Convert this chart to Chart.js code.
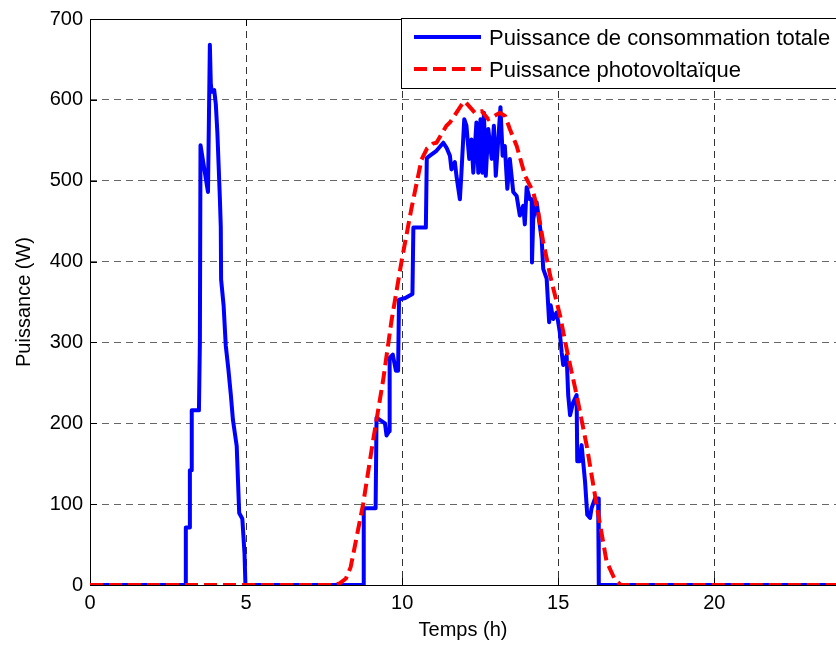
<!DOCTYPE html>
<html>
<head>
<meta charset="utf-8">
<script src="https://cdn.jsdelivr.net/npm/chart.js@4/dist/chart.umd.min.js"></script>
<style>
  html, body { margin: 0; padding: 0; background: #fff; }
  #boite { width: 836px; height: 648px; }
</style>
</head>
<body>
<div id="boite"><canvas id="puissance"></canvas></div>
<script>
// Puissance de consommation totale vs puissance photovoltaique, sur 24 h

// courbe bleue : consommation totale (W)
var heuresConso = [0, 3.07, 3.07, 3.18, 3.2, 3.24, 3.26, 3.49, 3.52, 3.54, 3.66, 3.78, 3.84, 3.87, 3.9, 3.98,
  4.03, 4.08, 4.12, 4.16, 4.19, 4.2, 4.28, 4.35, 4.43, 4.51, 4.58, 4.7, 4.78, 4.88, 4.95, 4.98,
  8.75, 8.77, 9.15, 9.18, 9.45, 9.5, 9.58, 9.6, 9.7, 9.8, 9.87, 9.9, 10.1, 10.33, 10.36, 10.76, 10.79,
  10.89, 11.1, 11.32, 11.42, 11.53, 11.58, 11.69, 11.74, 11.85, 11.9, 11.99, 12.06, 12.15, 12.22,
  12.28, 12.38, 12.44, 12.51, 12.57, 12.62, 12.68, 12.76, 12.87, 12.94, 13.0, 13.08, 13.15, 13.22,
  13.29, 13.37, 13.45, 13.56, 13.67, 13.77, 13.88, 13.93, 13.99, 14.09, 14.15, 14.16, 14.2, 14.31,
  14.47, 14.52, 14.63, 14.71, 14.76, 14.84, 14.95, 15.05, 15.11, 15.16, 15.27, 15.32, 15.38, 15.48,
  15.59, 15.61, 15.69, 15.75, 15.86, 15.93, 16.02, 16.07, 16.18, 16.28, 16.3, 24];
var wattsConso = [0, 0, 71, 71, 142, 142, 216, 216, 300, 544, 515, 486, 668, 620, 610, 612,
  595, 560, 520, 479, 443, 378, 346, 296, 268, 236, 204, 172, 89, 82, 39, 0,
  0, 95, 95, 207, 200, 185, 190, 281, 285, 265, 265, 353, 355, 360, 442, 442, 528,
  531, 537, 547, 541, 531, 514, 523, 506, 477, 510, 576, 568, 527, 551,
  510, 572, 510, 576, 510, 584, 506, 564, 527, 568, 506, 551, 591, 531,
  543, 490, 527, 486, 481, 457, 469, 446, 492, 477, 477, 399, 453, 473,
  428, 391, 379, 325, 346, 329, 337, 313, 288, 272, 284, 235, 210, 226,
  235, 153, 153, 173, 128, 87, 83, 95, 107, 107, 0, 0];

// courbe rouge : production photovoltaique (W)
var heuresPV = [0, 7.8, 8.0, 8.2, 8.35, 8.48, 8.75, 9.07, 9.39, 9.66, 9.98, 10.3, 10.62, 10.8, 10.99,
  11.1, 11.42, 11.53, 11.96, 12.01, 12.33, 12.55, 12.76, 13.13, 13.3, 13.45, 13.67, 13.94, 14.2,
  14.36, 14.52, 14.68, 14.74, 15.06, 15.27, 15.59, 15.91, 16.23, 16.55, 16.8, 17.0, 24];
var wattsPV = [0, 0, 2, 8, 22, 47, 100, 179, 253, 327, 400, 466, 526, 540, 546,
  547, 568, 572, 597, 598, 584, 586, 576, 584, 580, 564, 543, 506, 486,
  461, 424, 395, 383, 333, 292, 235, 173, 99, 29, 8, 0, 0];

var ticksTemps = [0, 5, 10, 15, 20];
var nomsSeries = ['Puissance de consommation totale', 'Puissance photovoltaïque'];

function enPoints(xs, ys) {
  return xs.map(function (x, i) { return { x: x, y: ys[i] }; });
}

var police = '"Liberation Sans", Arial, Helvetica, sans-serif';

// cadre + petites graduations interieures, sous les courbes
var cadre = {
  id: 'cadre',
  beforeDatasetsDraw: function (chart) {
    var ctx = chart.ctx, a = chart.chartArea;
    var sx = chart.scales.x, sy = chart.scales.y;
    ctx.save();
    ctx.strokeStyle = '#000';
    ctx.lineWidth = 1;
    ctx.strokeRect(a.left + 0.5, a.top + 0.5, a.right - a.left + 10, a.bottom - a.top);
    ctx.beginPath();
    sx.ticks.forEach(function (t) {
      var px = Math.round(sx.getPixelForValue(t.value)) + 0.5;
      ctx.moveTo(px, a.bottom); ctx.lineTo(px, a.bottom - 7);
      ctx.moveTo(px, a.top); ctx.lineTo(px, a.top + 7);
    });
    sy.ticks.forEach(function (t) {
      var py = Math.round(sy.getPixelForValue(t.value)) + 0.5;
      ctx.moveTo(a.left, py); ctx.lineTo(a.left + 7, py);
    });
    ctx.stroke();
    ctx.restore();
  }
};

// legende encadree dans le coin haut droit
var legende = {
  id: 'legende',
  afterDatasetsDraw: function (chart) {
    var ctx = chart.ctx, a = chart.chartArea;
    var x0 = 401, y0 = a.top - 1, h = 70;
    ctx.save();
    ctx.fillStyle = '#fff';
    ctx.fillRect(x0, y0, chart.width - x0 + 5, h);
    ctx.strokeStyle = '#000';
    ctx.lineWidth = 1;
    ctx.strokeRect(x0 + 0.5, y0 + 0.5, chart.width - x0 + 5, h);
    chart.data.datasets.forEach(function (ds, i) {
      var ly = y0 + 19 + i * 32;
      ctx.beginPath();
      ctx.strokeStyle = ds.borderColor;
      ctx.lineWidth = ds.borderWidth;
      ctx.setLineDash(ds.borderDash || []);
      ctx.moveTo(414, ly); ctx.lineTo(481, ly);
      ctx.stroke();
      ctx.setLineDash([]);
      ctx.fillStyle = '#000';
      ctx.font = '22px ' + police;
      ctx.textBaseline = 'alphabetic';
      ctx.fillText(ds.label, 489, ly + 8);
    });
    ctx.restore();
  }
};

var graphe = new Chart(document.getElementById('puissance'), {
  type: 'line',
  data: {
    datasets: [{
      label: nomsSeries[0],
      data: enPoints(heuresConso, wattsConso),
      borderColor: '#0000ff',
      borderWidth: 4,
      borderJoinStyle: 'round',
      pointRadius: 0,
      tension: 0,
      order: 1
    }, {
      label: nomsSeries[1],
      data: enPoints(heuresPV, wattsPV),
      borderColor: '#ff0000',
      borderWidth: 4,
      borderDash: [13, 6],
      pointRadius: 0,
      tension: 0,
      order: 0
    }]
  },
  options: {
    responsive: true,
    maintainAspectRatio: false,
    animation: false,
    layout: { padding: { top: 16, left: 0, right: 0, bottom: 0 } },
    plugins: {
      legend: { display: false },
      tooltip: { enabled: false }
    },
    scales: {
      x: {
        type: 'linear',
        min: 0,
        max: 23.9,
        afterBuildTicks: function (scale) {
          scale.ticks = ticksTemps.map(function (v) { return { value: v }; });
        },
        afterFit: function (scale) { scale.height = 63; },
        grid: { color: '#333', lineWidth: 1, drawTicks: false },
        border: { display: false, dash: [7, 5] },
        ticks: { autoSkip: false, maxRotation: 0, padding: 6, color: '#000', font: { family: police, size: 20 } },
        title: { display: true, text: 'Temps (h)', color: '#000', padding: { top: 0, bottom: 6 }, font: { family: police, size: 20 } }
      },
      y: {
        min: 0,
        max: 700,
        afterFit: function (scale) { scale.width = 90; },
        grid: { color: '#666', lineWidth: 1, drawTicks: false },
        border: { display: false, dash: [7, 5] },
        ticks: { stepSize: 100, padding: 7, color: '#000', font: { family: police, size: 20 } },
        title: { display: true, text: 'Puissance (W)', color: '#000', padding: { top: 12, bottom: 0 }, font: { family: police, size: 20 } }
      }
    }
  },
  plugins: [cadre, legende]
});
</script>
</body>
</html>
